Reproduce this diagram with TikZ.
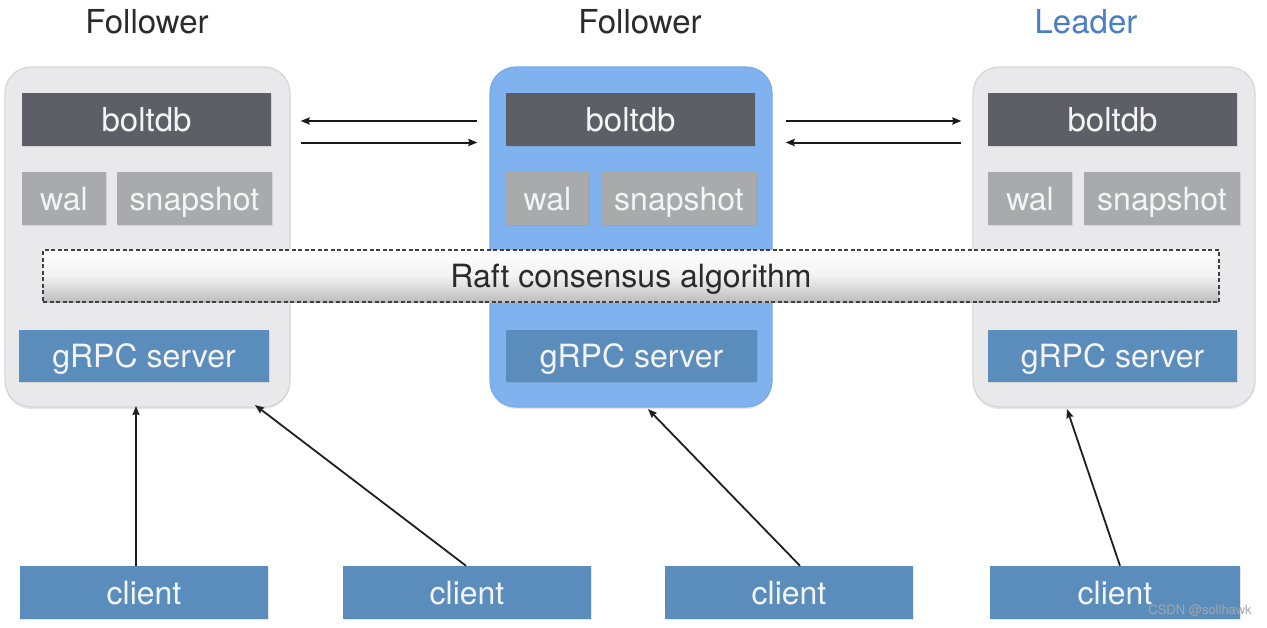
\documentclass[tikz,border=0pt]{standalone}
\usepackage{fontspec}
\setmainfont{TeX Gyre Heros}
\usetikzlibrary{arrows.meta,shadows}
\definecolor{panelgray}{HTML}{E9E9EB}
\definecolor{panelline}{HTML}{D6D6D8}
\definecolor{panelblue}{HTML}{7FB2EE}
\definecolor{panelblueline}{HTML}{78AAE6}
\definecolor{bolt}{HTML}{5E5F66}
\definecolor{store}{HTML}{A9AAAC}
\definecolor{rpc}{HTML}{5B8DBC}
\definecolor{leader}{HTML}{4A7DC2}
\definecolor{titletext}{HTML}{2B2B2B}
\definecolor{boxtext}{HTML}{F4F4F4}
\begin{document}
\begin{tikzpicture}[x=1pt,y=-1pt,
  panel/.style={rounded corners=26pt, fill=panelgray, draw=panelline, line width=1.2pt,
    minimum height=340pt, inner sep=0pt,
    drop shadow={opacity=0.18, shadow xshift=0pt, shadow yshift=-2pt}},
  boxbase/.style={inner sep=0pt, text=boxtext, font=\fontsize{32}{36}\selectfont,
    text height=23pt, text depth=0pt,
    drop shadow={opacity=0.2, shadow xshift=0.8pt, shadow yshift=-1.2pt}},
  boltbox/.style={boxbase, fill=bolt, minimum width=249pt, minimum height=53pt,
    font=\fontsize{33}{36}\selectfont},
  storebox/.style={boxbase, fill=store, minimum height=53pt},
  rpcbox/.style={boxbase, fill=rpc, minimum height=52pt},
  clientbox/.style={boxbase, fill=rpc, minimum height=53pt, text=white!92!rpc},
  titlelabel/.style={font=\fontsize{33}{38}\selectfont, text=titletext, inner sep=0pt,
    text height=23.5pt, text depth=0pt},
  arr/.style={-{Stealth[length=9pt,width=7pt,inset=1pt]}, line width=2pt, draw=black!90},
  carr/.style={-{Stealth[length=9pt,width=7pt,inset=1pt]}, line width=1.8pt, draw=black!88}
]
\useasboundingbox (0,0) rectangle (1267,627);

% titles
\node[titlelabel] (tL) at (147,21.5) {Follower};
\node[titlelabel] (tM) at (640,21.5) {Follower};
\node[titlelabel, text=leader] (tR) at (1086,21.5) {Leader};

% panels
\node[panel, minimum width=285pt] (panelL) at (147.5,237) {};
\node[panel, minimum width=282pt, fill=panelblue, draw=panelblueline] (panelM) at (631,237) {};
\node[panel, minimum width=282pt] (panelR) at (1114,237) {};

% left panel contents
\node[boltbox] (boltL) at (146.5,119.5) {boltdb};
\node[storebox, minimum width=84pt] (walL) at (64,198.5) {wal};
\node[storebox, minimum width=155pt] (snapL) at (194.5,198.5) {snapshot};
\node[rpcbox, minimum width=250pt] (rpcL) at (144,356) {gRPC server};

% middle panel contents
\node[boltbox] (boltM) at (630.5,119.5) {boltdb};
\node[storebox, minimum width=83pt] (walM) at (547.5,198.5) {wal};
\node[storebox, minimum width=156pt] (snapM) at (679,198.5) {snapshot};
\node[rpcbox, minimum width=251pt] (rpcM) at (631.5,356) {gRPC server};

% right panel contents
\node[boltbox] (boltR) at (1112.5,119.5) {boltdb};
\node[storebox, minimum width=84pt] (walR) at (1030,198.5) {wal};
\node[storebox, minimum width=156pt] (snapR) at (1162,198.5) {snapshot};
\node[rpcbox, minimum width=249pt] (rpcR) at (1112.5,356) {gRPC server};

% raft bar
\node[minimum width=1176pt, minimum height=52pt, inner sep=0pt,
  top color=white, bottom color=black!26, middle color=white!95!black,
  draw=black!75, line width=1.1pt, dash pattern=on 4pt off 2.5pt,
  font=\fontsize{32}{36}\selectfont, text height=23pt, text depth=0pt,
  text=titletext] (raft) at (631,276) {Raft consensus algorithm};

% clients
\node[clientbox, minimum width=248pt] (c1) at (144,592.5) {client};
\node[clientbox, minimum width=248pt] (c2) at (467,592.5) {client};
\node[clientbox, minimum width=248pt] (c3) at (789,592.5) {client};
\node[clientbox, minimum width=250pt] (c4) at (1115,592.5) {client};

% peer arrows
\coordinate (upY) at (0,121);
\coordinate (dnY) at (0,142.5);
\draw[arr, shorten <=12pt, shorten >=10pt] (panelM.west |- upY) -- (panelL.east |- upY);
\draw[arr, shorten <=10pt, shorten >=12pt] (panelL.east |- dnY) -- (panelM.west |- dnY);
\draw[arr, shorten <=13pt, shorten >=11pt] (panelM.east |- upY) -- (panelR.west |- upY);
\draw[arr, shorten <=11pt, shorten >=13pt] (panelR.west |- dnY) -- (panelM.east |- dnY);

% client arrows
\coordinate (e1) at (136,406);
\coordinate (e2) at (255,405);
\coordinate (e3) at (648,409);
\coordinate (e4) at (1067,409);
\draw[carr] ([xshift=-8pt]c1.north) -- (e1);
\draw[carr] ([xshift=-1pt]c2.north) -- (e2);
\draw[carr] ([xshift=11pt]c3.north) -- (e3);
\draw[carr] ([xshift=5pt]c4.north) -- (e4);

% watermark
\node[font=\fontsize{13}{15}\selectfont, text=black!35, inner sep=0pt] (wm) at (1200,611) {CSDN @solihawk};
\end{tikzpicture}
\end{document}
